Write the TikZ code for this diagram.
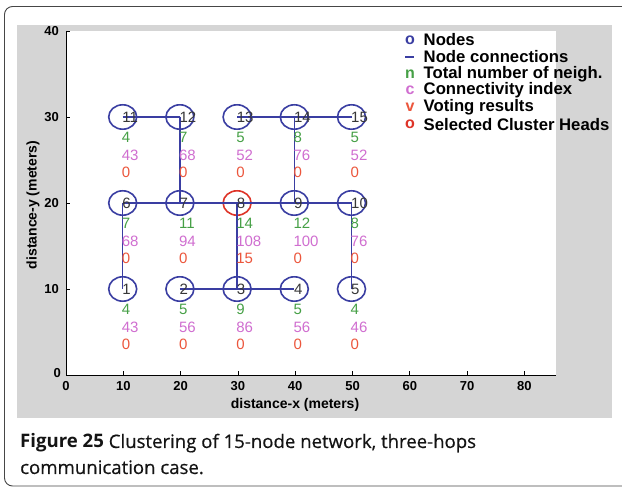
\documentclass[tikz,border=0pt]{standalone}
\usepackage{fontspec}
\setmainfont{Liberation Sans}
\newfontfamily\capfont[FakeBold=0.5]{Open Sans}
\newfontfamily\capboldfont{Open Sans Bold}

\definecolor{framegray}{RGB}{70,70,70}
\definecolor{figgray}{RGB}{213,213,213}
\definecolor{nodeblue}{RGB}{58,62,162}
\definecolor{headred}{RGB}{222,52,40}
\definecolor{neighgreen}{RGB}{70,160,70}
\definecolor{connmag}{RGB}{208,110,208}
\definecolor{votered}{RGB}{236,86,60}
\definecolor{numgray}{RGB}{55,55,55}
\definecolor{captionblack}{RGB}{20,20,20}

\tikzset{
  axisline/.style={black, line width=0.8pt},
  ticklab/.style={font=\bfseries\fontsize{13}{15}\selectfont, inner sep=0pt},
  axislab/.style={font=\bfseries\fontsize{14}{17}\selectfont, inner sep=0pt},
  marker/.style={draw=nodeblue, line width=1.6pt},
  headmarker/.style={draw=headred, line width=1.6pt},
  link/.style={nodeblue, line width=1.5pt},
  datalab/.style={anchor=west, inner sep=0pt, font=\fontsize{15}{18}\selectfont},
  numlab/.style={datalab, text=numgray},
  nlab/.style={datalab, text=neighgreen, yshift=-20.5pt},
  clab/.style={datalab, text=connmag, yshift=-38pt},
  vlab/.style={datalab, text=votered, yshift=-55pt},
  legmark/.style={inner sep=0pt, font=\bfseries\fontsize{16}{18}\selectfont},
  legtext/.style={anchor=west, inner sep=0pt, font=\bfseries\fontsize{16.7}{19}\selectfont},
  captext/.style={anchor=base west, inner sep=0pt, text=captionblack, font=\capfont\fontsize{18.6}{22}\selectfont}
}

\begin{document}
\begin{tikzpicture}[x=1pt,y=-1pt]
\useasboundingbox (0,0) rectangle (622,489);
\clip (0,0) rectangle (622,489);

% panel frame and figure background
\draw[framegray, line width=0.9pt, rounded corners=8pt] (4.5,6.5) rectangle (650,486);
\fill[figgray] (17,25) rectangle (612,418);
\fill[white] (66,31) rectangle (556,375);

% axes, ticks and tick labels
\draw[axisline] (66,31) -- (66,375) -- (556,375);
\foreach \k in {1,...,8}
  \draw[axisline] ({66+57.3*\k},375) -- ++(0,-4);
\foreach \k in {1,...,4}
  \draw[axisline] (66,{375-86*\k}) -- ++(4,0);
\node[ticklab] (xt0) at (66,386) {0};
\foreach \k in {1,...,8}
  \node[ticklab] (xt\k) at ({66+57.3*\k},386) {\k0};
\node[ticklab, anchor=east] (yt0) at (61,373) {0};
\foreach \k in {1,...,4}
  \node[ticklab, anchor=east] (yt\k) at (59,{375-86*\k}) {\k0};
\node[axislab] (xlabel) at (295,405) {distance-x (meters)};
\node[axislab, rotate=90] (ylabel) at (33,205) {distance-y (meters)};

% network in data coordinates (metres)
\begin{scope}[shift={(65.5pt,-375pt)}, x=5.72pt, y=8.6pt]
  \foreach \i/\x/\y in {1/10/10, 2/20/10, 3/30/10, 4/40/10, 5/50/10,
                        6/10/20, 7/20/20, 8/30/20, 9/40/20, 10/50/20,
                        11/10/30, 12/20/30, 13/30/30, 14/40/30, 15/50/30}
    \coordinate (n\i) at (\x,\y);

  % node markers, the cluster head in red
  \foreach \i in {1,...,7,9,10,...,15}
    \draw[marker] (n\i) ellipse [x radius=14pt, y radius=12.2pt];
  \draw[headmarker] (n8) ellipse [x radius=14pt, y radius=12.2pt];

  % node connections
  \draw[link] (n11) -- (n12);
  \draw[link] (n13) -- (n14) -- (n15);
  \draw[link] (n12) -- (n7);
  \draw[link] (n14) -- (n9);
  \draw[link] (n6) -- (n7) -- (n8) -- (n9) -- (n10);
  \draw[link] (n6) -- (n1);
  \draw[link] (n8) -- (n3);
  \draw[link] (n10) -- (n5);
  \draw[link] (n2) -- (n3) -- (n4);

  % node number, neighbours, connectivity index, votes
  \foreach \i/\n/\c/\v in {1/4/43/0, 2/5/56/0, 3/9/86/0, 4/5/56/0, 5/4/46/0,
                           6/7/68/0, 7/11/94/0, 8/14/108/15, 9/12/100/0, 10/8/76/0,
                           11/4/43/0, 12/7/68/0, 13/5/52/0, 14/8/76/0, 15/5/52/0} {
    \node[numlab, xshift=-0.5pt] (id\i) at (n\i) {\i};
    \node[nlab, xshift=-1pt] (nb\i) at (n\i) {\n};
    \node[clab, xshift=-1pt] (ci\i) at (n\i) {\c};
    \node[vlab, xshift=-1pt] (vr\i) at (n\i) {\v};
  }
\end{scope}

% legend
\node[legmark, text=nodeblue] (lm1) at (410,40) {o};
\node[legtext] (lt1) at (423.5,40) {Nodes};
\coordinate (lm2a) at (405,57);
\coordinate (lm2b) at (414,57);
\draw[link] (lm2a) -- (lm2b);
\node[legtext] (lt2) at (423.5,57) {Node connections};
\node[legmark, text=neighgreen] (lm3) at (410,74) {n};
\node[legtext] (lt3) at (423.5,74) {Total number of neigh.};
\node[legmark, text=connmag] (lm4) at (410,90.5) {c};
\node[legtext] (lt4) at (423.5,90.5) {Connectivity index};
\node[legmark, text=votered] (lm5) at (410,107.5) {v};
\node[legtext] (lt5) at (423.5,107.5) {Voting results};
\node[legmark, text=headred] (lm6) at (410,124.5) {o};
\node[legtext] (lt6) at (423.5,124.5) {Selected Cluster Heads};

% caption
\node[captext] (cap1) at (20,448) {{\capboldfont Figure 25} Clustering of 15-node network, three-hops};
\node[captext] (cap2) at (20,474) {communication case.};
\end{tikzpicture}
\end{document}
